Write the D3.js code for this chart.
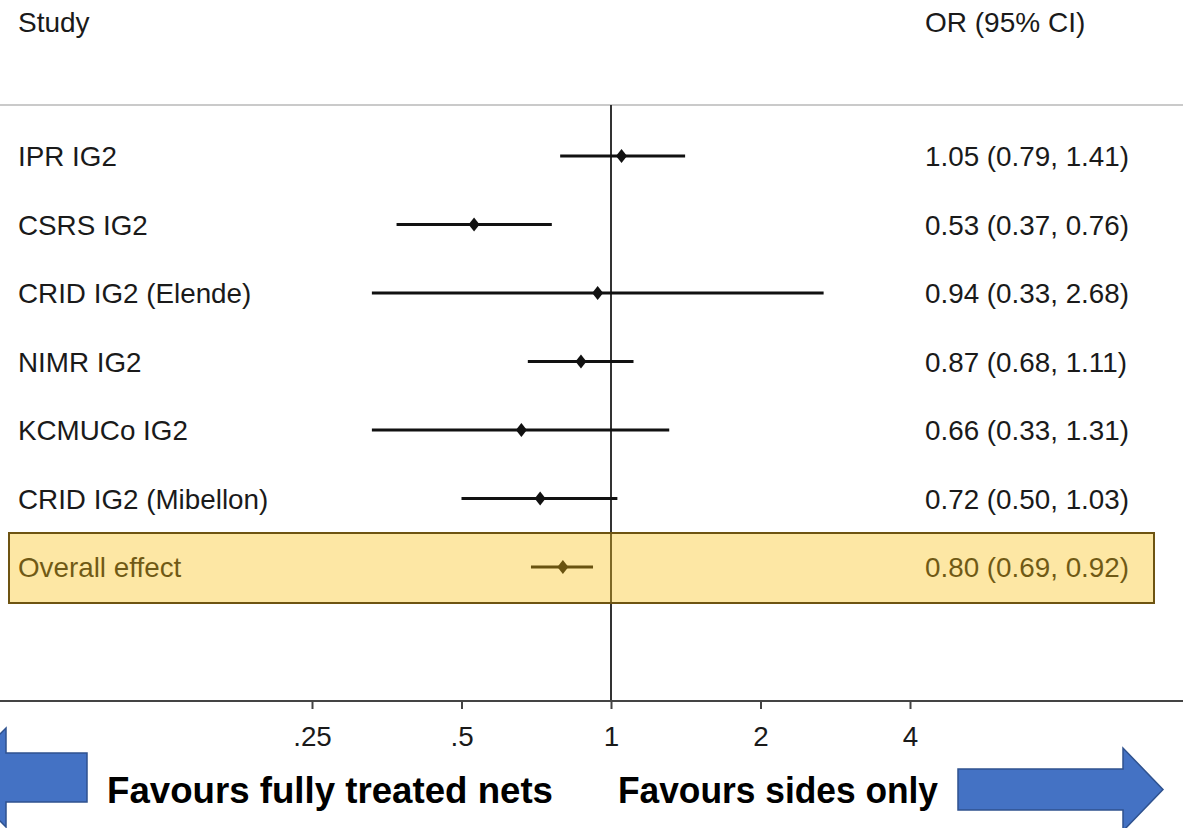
<!DOCTYPE html>
<html>
<head>
<meta charset="utf-8">
<script src="https://cdn.jsdelivr.net/npm/d3@7"></script>
<style>
  html, body { margin: 0; padding: 0; background: #fff; }
  svg { display: block; }
  text { font-family: "Liberation Sans", Arial, Helvetica, sans-serif; }
</style>
</head>
<body>
<div id="chart"></div>
<script>
const studies = ["IPR IG2", "CSRS IG2", "CRID IG2 (Elende)", "NIMR IG2", "KCMUCo IG2", "CRID IG2 (Mibellon)", "Overall effect"];
const orValues = [1.05, 0.53, 0.94, 0.87, 0.66, 0.72, 0.80];
const ciLow = [0.79, 0.37, 0.33, 0.68, 0.33, 0.50, 0.69];
const ciHigh = [1.41, 0.76, 2.68, 1.11, 1.31, 1.03, 0.92];
const orLabels = ["1.05 (0.79, 1.41)", "0.53 (0.37, 0.76)", "0.94 (0.33, 2.68)", "0.87 (0.68, 1.11)", "0.66 (0.33, 1.31)", "0.72 (0.50, 1.03)", "0.80 (0.69, 0.92)"];
const tickValues = [0.25, 0.5, 1, 2, 4];
const tickLabels = [".25", ".5", "1", "2", "4"];

const width = 1183, height = 828;
const rows = studies.map((s, i) => ({ study: s, or: orValues[i], lo: ciLow[i], hi: ciHigh[i], label: orLabels[i] }));

const svg = d3.select("#chart").append("svg")
  .attr("width", width)
  .attr("height", height);

const x = d3.scaleLog().domain([0.25, 4]).range([312, 910]);
const y = d3.scalePoint().domain(studies).range([156, 567]);
const axisY = 701, topY = 105;
const fs = 27.8;

// headers
svg.append("text").attr("x", 18).attr("y", 32).attr("font-size", 28).attr("fill", "#1a1a1a").text("Study");
svg.append("text").attr("x", 925).attr("y", 32).attr("font-size", 28).attr("fill", "#1a1a1a").text("OR (95% CI)");

// top rule
svg.append("line").attr("x1", 0).attr("x2", width).attr("y1", topY).attr("y2", topY)
  .attr("stroke", "#cacaca").attr("stroke-width", 2);

// no-effect line
svg.append("line").attr("x1", x(1)).attr("x2", x(1)).attr("y1", topY).attr("y2", axisY)
  .attr("stroke", "#333").attr("stroke-width", 2);

// x axis
const axis = d3.axisBottom(x)
  .tickValues(tickValues)
  .tickFormat((d, i) => tickLabels[i])
  .tickSize(8)
  .tickPadding(17);
const ax = svg.append("g").attr("transform", `translate(0,${axisY})`).call(axis);
ax.select(".domain").remove();
ax.selectAll(".tick line").attr("stroke", "#444").attr("stroke-width", 2);
ax.selectAll(".tick text").attr("font-size", fs).attr("fill", "#1a1a1a")
  .attr("font-family", "'Liberation Sans', Arial, sans-serif");
svg.append("line").attr("x1", 0).attr("x2", width).attr("y1", axisY).attr("y2", axisY)
  .attr("stroke", "#444").attr("stroke-width", 2);

// study labels and OR text
svg.selectAll("text.study").data(rows).enter().append("text")
  .attr("class", "study")
  .attr("x", 18).attr("y", d => y(d.study) + 10)
  .attr("font-size", fs).attr("fill", "#1a1a1a")
  .text(d => d.study);
svg.selectAll("text.or").data(rows).enter().append("text")
  .attr("class", "or")
  .attr("x", 925).attr("y", d => y(d.study) + 10)
  .attr("font-size", fs).attr("fill", "#1a1a1a")
  .text(d => d.label);

// CI lines
svg.selectAll("line.ci").data(rows).enter().append("line")
  .attr("class", "ci")
  .attr("x1", d => x(d.lo)).attr("x2", d => x(d.hi))
  .attr("y1", d => y(d.study)).attr("y2", d => y(d.study))
  .attr("stroke", "#111").attr("stroke-width", 2.8);

// point estimates
const diamond = (cx, cy) => `M${cx},${cy - 7}L${cx + 5.5},${cy}L${cx},${cy + 7}L${cx - 5.5},${cy}Z`;
svg.selectAll("path.pt").data(rows).enter().append("path")
  .attr("class", "pt")
  .attr("d", d => diamond(x(d.or), y(d.study)))
  .attr("fill", "#111");

// highlight box over the overall effect row
const yo = y("Overall effect");
svg.append("rect")
  .attr("x", 9).attr("y", yo - 34).attr("width", 1145).attr("height", 70)
  .attr("fill", "#fac010").attr("fill-opacity", 0.38)
  .attr("stroke", "#6e5412").attr("stroke-width", 2);

// arrows
svg.append("path")
  .attr("d", "M87,753L6,753L6,728L-44,777.5L6,827L6,802L87,802Z")
  .attr("fill", "#4472c4").attr("stroke", "#2f528f").attr("stroke-width", 1.5);
svg.append("path")
  .attr("d", "M958,769L1123,769L1123,748L1163,789.5L1123,831L1123,810L958,810Z")
  .attr("fill", "#4472c4").attr("stroke", "#2f528f").attr("stroke-width", 1.5);

svg.append("text").attr("x", 107).attr("y", 803)
  .attr("font-family", "Lato, 'Open Sans', sans-serif").attr("font-weight", "bold")
  .attr("font-size", 36).attr("fill", "#000")
  .attr("textLength", 446).attr("lengthAdjust", "spacingAndGlyphs")
  .text("Favours fully treated nets");
svg.append("text").attr("x", 618).attr("y", 803)
  .attr("font-family", "Lato, 'Open Sans', sans-serif").attr("font-weight", "bold")
  .attr("font-size", 36).attr("fill", "#000")
  .attr("textLength", 320).attr("lengthAdjust", "spacingAndGlyphs")
  .text("Favours sides only");
</script>
</body>
</html>
